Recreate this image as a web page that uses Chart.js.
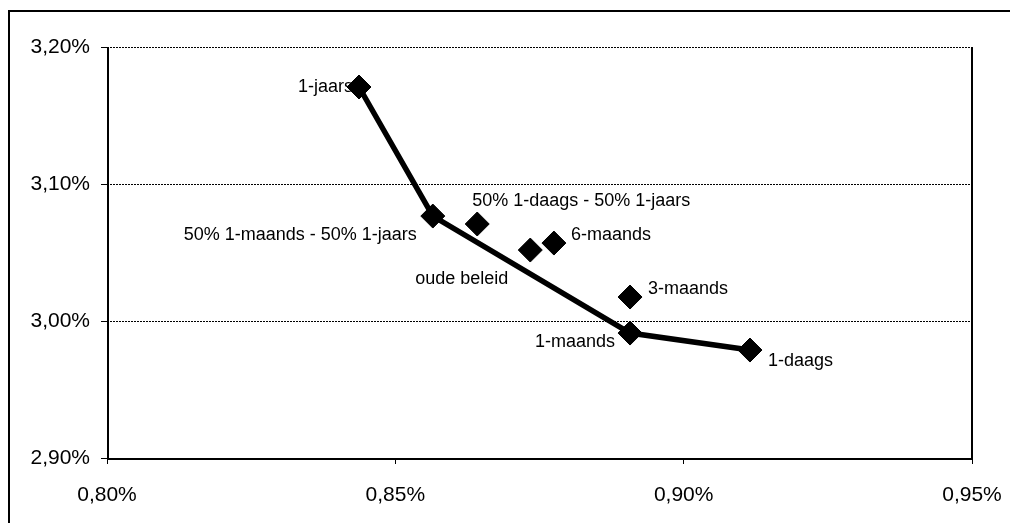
<!DOCTYPE html>
<html>
<head>
<meta charset="utf-8">
<script src="https://cdn.jsdelivr.net/npm/chart.js@4/dist/chart.umd.min.js"></script>
<style>
  html, body { margin: 0; padding: 0; background: #fff; }
  #wrap { width: 1010px; height: 523px; }
</style>
</head>
<body>
<div id="wrap"><canvas id="c" width="1010" height="523"></canvas></div>
<script>
// Beleggingsvarianten: rendement (x, %) tegen kosten/risico (y, %)
const names = [
  '1-jaars',
  '50% 1-maands - 50% 1-jaars',
  '50% 1-daags - 50% 1-jaars',
  'oude beleid',
  '6-maands',
  '3-maands',
  '1-maands',
  '1-daags'
];
const xValues = [0.8437, 0.8565, 0.8642, 0.8734, 0.8775, 0.8907, 0.8907, 0.9115];
const yValues = [3.1708, 3.0766, 3.0708, 3.0518, 3.0569, 3.0175, 2.9912, 2.9788];

// Varianten die samen de verbonden lijn vormen
const frontier = ['1-jaars', '50% 1-maands - 50% 1-jaars', '1-maands', '1-daags'];

const xTicks = [0.80, 0.85, 0.90, 0.95];
const yTicks = [2.90, 3.00, 3.10, 3.20];

const FONT = '"Liberation Sans", Arial, sans-serif';

// Label placement relative to each marker: [dx, dy, align]
const labelPlacement = {
  '1-jaars': [-6, 0, 'right'],
  '50% 1-maands - 50% 1-jaars': [-16, 19, 'right'],
  '50% 1-daags - 50% 1-jaars': [-5, -23, 'left'],
  'oude beleid': [-22, 29, 'right'],
  '6-maands': [17, -8, 'left'],
  '3-maands': [18, -8, 'left'],
  '1-maands': [-15, 9, 'right'],
  '1-daags': [18, 11, 'left']
};

const points = names.map((n, i) => ({ x: xValues[i], y: yValues[i] }));
const frontierPts = frontier.map(n => points[names.indexOf(n)]);

const fmt = v => (Math.round(v * 100) / 100).toFixed(2).replace('.', ',') + '%';

const framePlugin = {
  id: 'frame',
  beforeDraw(chart) {
    const ctx = chart.ctx;
    ctx.save();
    ctx.fillStyle = '#fff';
    ctx.fillRect(0, 0, chart.width, chart.height);
    ctx.strokeStyle = '#000';
    ctx.lineWidth = 2;
    ctx.strokeRect(9, 11, chart.width + 20, chart.height + 20);
    ctx.restore();
  },
  afterDraw(chart) {
    const { ctx, chartArea: a } = chart;
    ctx.save();
    ctx.strokeStyle = '#000';
    ctx.lineWidth = 2;
    ctx.beginPath();
    ctx.moveTo(a.left + 1, a.top);
    ctx.lineTo(a.left + 1, a.bottom);
    ctx.moveTo(a.left, a.bottom + 1);
    ctx.lineTo(a.right + 1, a.bottom + 1);
    ctx.moveTo(a.right, a.top);
    ctx.lineTo(a.right, a.bottom);
    ctx.stroke();
    ctx.restore();
  }
};

const labelPlugin = {
  id: 'pointLabels',
  afterDatasetsDraw(chart) {
    const meta = chart.getDatasetMeta(0);
    const ctx = chart.ctx;
    ctx.save();
    ctx.font = '18px ' + FONT;
    ctx.fillStyle = '#000';
    ctx.textBaseline = 'middle';
    meta.data.forEach((el, i) => {
      const p = labelPlacement[names[i]];
      ctx.textAlign = p[2];
      ctx.fillText(names[i], el.x + p[0], el.y + p[1]);
    });
    ctx.restore();
  }
};

new Chart(document.getElementById('c'), {
  type: 'scatter',
  data: {
    datasets: [
      {
        data: points,
        pointStyle: 'rectRot',
        pointRadius: 12,
        pointHoverRadius: 12,
        backgroundColor: '#000',
        borderColor: '#000',
        borderWidth: 1
      },
      {
        type: 'line',
        data: frontierPts,
        showLine: true,
        borderColor: '#000',
        borderWidth: 5.5,
        pointRadius: 0,
        fill: false,
        tension: 0
      }
    ]
  },
  options: {
    responsive: false,
    devicePixelRatio: 1,
    animation: false,
    events: [],
    layout: { padding: { left: 0, top: 47, right: 38, bottom: 0 } },
    plugins: { legend: { display: false }, tooltip: { enabled: false } },
    scales: {
      x: {
        type: 'linear',
        min: xTicks[0],
        max: xTicks[xTicks.length - 1],
        afterBuildTicks: s => { s.ticks = xTicks.map(v => ({ value: v })); },
        afterFit: s => { s.height = 65; s.paddingLeft = 0; s.paddingRight = 0; },
        grid: { drawOnChartArea: false, drawTicks: true, tickLength: 6, color: '#000', lineWidth: 1 },
        border: { display: false },
        ticks: {
          color: '#000',
          padding: 19,
          maxRotation: 0,
          font: { family: FONT, size: 21 },
          callback: v => fmt(v)
        }
      },
      y: {
        type: 'linear',
        min: yTicks[0],
        max: yTicks[yTicks.length - 1],
        afterBuildTicks: s => { s.ticks = yTicks.map(v => ({ value: v })); },
        afterFit: s => { s.width = 107; s.paddingTop = 0; s.paddingBottom = 0; },
        grid: { drawOnChartArea: true, drawTicks: true, tickLength: 6, color: '#000', lineWidth: 1, tickBorderDash: [] },
        border: { display: false, dash: [2, 1] },
        ticks: {
          color: '#000',
          padding: 11,
          font: { family: FONT, size: 21 },
          callback: v => fmt(v)
        }
      }
    }
  },
  plugins: [framePlugin, labelPlugin]
});
</script>
</body>
</html>
